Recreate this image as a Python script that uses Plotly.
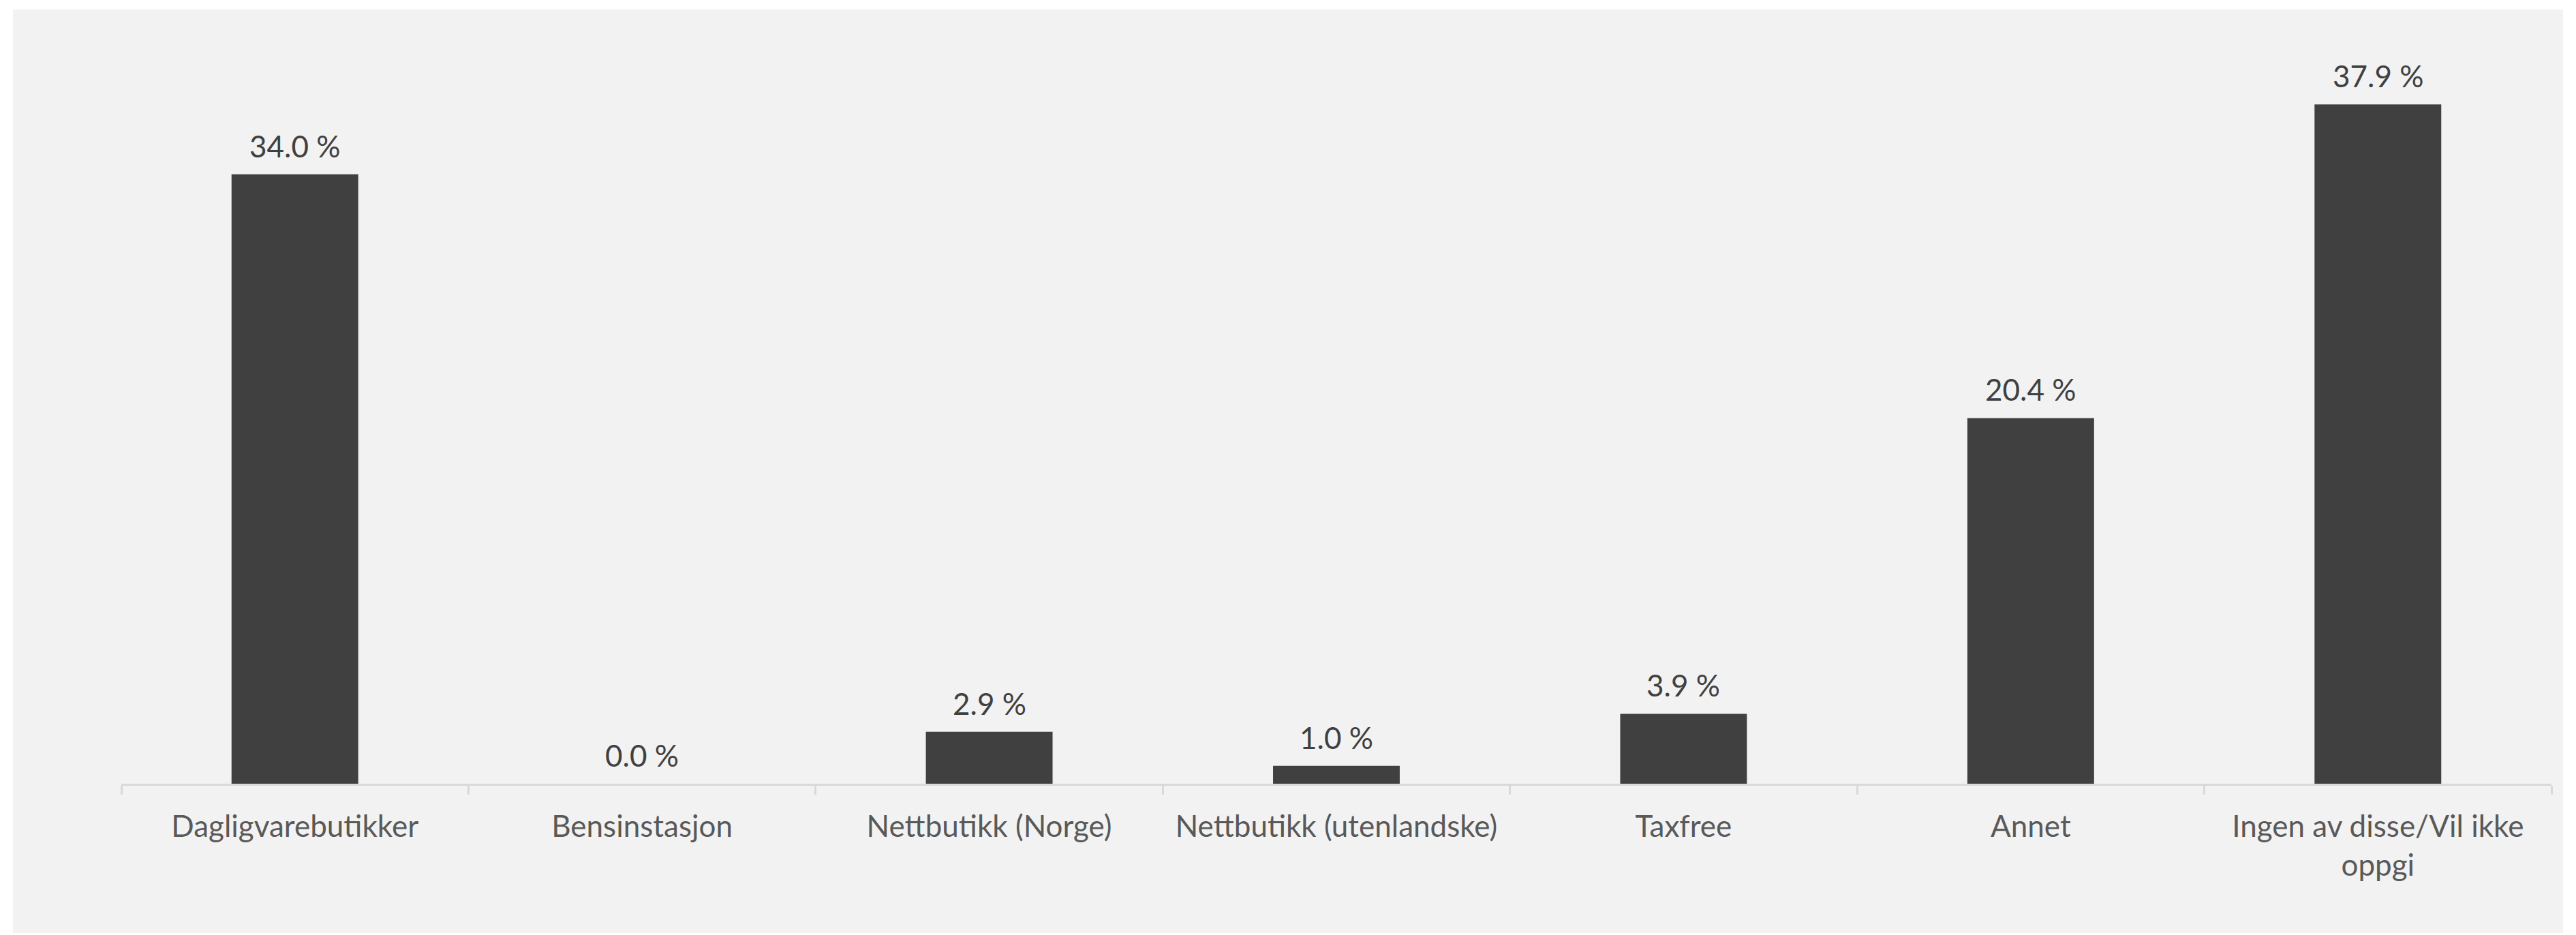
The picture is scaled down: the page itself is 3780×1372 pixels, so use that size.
import plotly.graph_objects as go

# Share of respondents by purchase channel
categories = [
    "Dagligvarebutikker",
    "Bensinstasjon",
    "Nettbutikk (Norge)",
    "Nettbutikk (utenlandske)",
    "Taxfree",
    "Annet",
    "Ingen av disse/Vil ikke<br>oppgi",
]
values = [34.0, 0.0, 2.9, 1.0, 3.9, 20.4, 37.9]

BAR_COLOR = "#404040"
PANEL_BG = "#F2F2F2"
AXIS_COLOR = "#D9D9D9"
FONT = "Lato"

W, H = 3780, 1372
left, right, top, bottom = 178, 36, 98, 222
plot_w = W - left - right
plot_h = H - top - bottom

fig = go.Figure(
    go.Bar(
        x=categories,
        y=values,
        marker=dict(color=BAR_COLOR, line=dict(width=0)),
        hoverinfo="x+y",
    )
)

# value labels sitting just above each bar
for cat, val in zip(categories, values):
    fig.add_annotation(
        x=cat, y=val, text=f"{val:.1f} %",
        showarrow=False, yanchor="bottom", yshift=14,
        font=dict(family=FONT, size=44, color="#404040"),
    )

# light grey panel behind the chart, in paper units relative to the plot area
fig.add_shape(
    type="rect",
    xref="paper", yref="paper",
    x0=(19 - left) / plot_w, x1=(3761 - left) / plot_w,
    y0=-(1369 - (H - bottom)) / plot_h, y1=((H - bottom) - 14) / plot_h,
    fillcolor=PANEL_BG, line=dict(width=0), layer="below",
)

fig.update_layout(
    width=W, height=H,
    margin=dict(l=left, r=right, t=top, b=bottom, pad=0),
    paper_bgcolor="white",
    plot_bgcolor=PANEL_BG,
    bargap=0.635,
    showlegend=False,
    font=dict(family=FONT, color="#595959"),
)
fig.update_xaxes(
    showline=True, linecolor=AXIS_COLOR, linewidth=3,
    ticks="outside", tickson="boundaries", ticklen=13, tickwidth=3, tickcolor=AXIS_COLOR,
    tickfont=dict(family=FONT, size=44, color="#595959"),
    ticklabelstandoff=22,
    showgrid=False, zeroline=False, tickangle=0,
)
fig.update_yaxes(
    range=[0, 40], visible=False, showgrid=False, zeroline=False,
)

fig.write_html("out.html")
